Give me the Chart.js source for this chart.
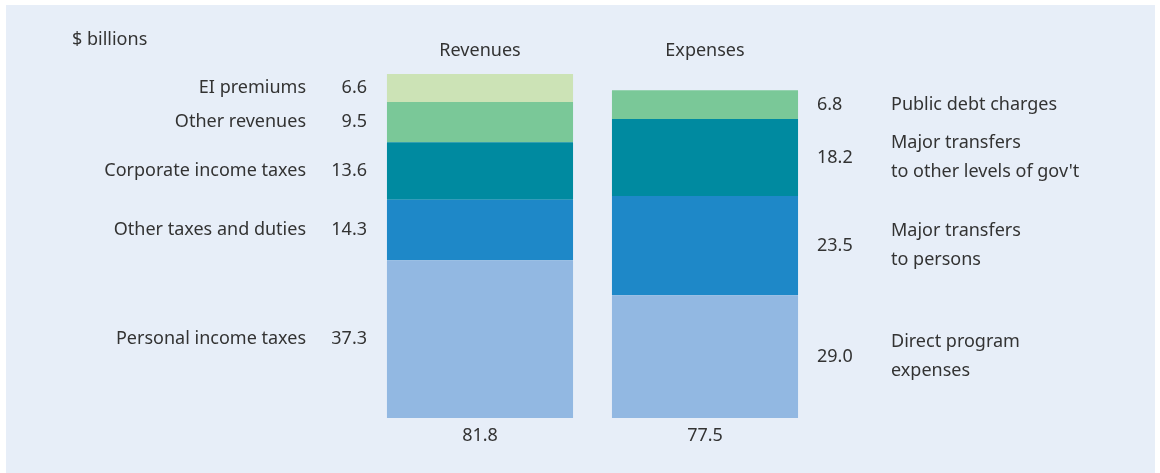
<!DOCTYPE html>
<html>
<head>
<meta charset="utf-8">
<script src="https://cdn.jsdelivr.net/npm/chart.js@4"></script>
<style>
  html, body { margin: 0; padding: 0; background: #fff; }
  #panel { position: absolute; left: 6px; top: 5px; width: 1149px; height: 468px; background: #e7eef8; }
  #wrap { position: absolute; left: 0; top: 0; width: 1160px; height: 473px; }
</style>
</head>
<body>
<div id="panel"></div>
<div id="wrap"><canvas id="budgetChart" width="1160" height="473"></canvas></div>
<script>
// Categories
const columns = ["Revenues", "Expenses"];
// Segments from bottom to top
const revenueLabels = ["Personal income taxes", "Other taxes and duties", "Corporate income taxes", "Other revenues", "EI premiums"];
const revenueValues = [37.3, 14.3, 13.6, 9.5, 6.6];
const expenseLabels = [["Direct program", "expenses"], ["Major transfers", "to persons"], ["Major transfers", "to other levels of gov't"], ["Public debt charges"]];
const expenseValues = [29.0, 23.5, 18.2, 6.8];
const totals = ["81.8", "77.5"];
const segmentColors = ["#92b8e2", "#1e88c8", "#008aa0", "#7ac898", "#cce3b6"];

const FONT = "18px 'Noto Sans', sans-serif";
const TEXT = "#333";

// one dataset per stack level
const datasets = revenueValues.map((v, i) => ({
    label: revenueLabels[i],
    data: [v, i < expenseValues.length ? expenseValues[i] : null],
    backgroundColor: segmentColors[i],
    borderWidth: 0,
    barPercentage: 0.827,
    categoryPercentage: 1
}));

// labels beside the bars
const sideLabels = {
    id: "sideLabels",
    afterDatasetsDraw(chart) {
        const ctx = chart.ctx;
        ctx.save();
        ctx.font = FONT;
        ctx.fillStyle = TEXT;
        ctx.textBaseline = "middle";

        // left side: revenues
        revenueValues.forEach((v, i) => {
            const bar = chart.getDatasetMeta(i).data[0];
            const cy = (bar.y + bar.base) / 2;
            ctx.textAlign = "right";
            ctx.fillText(revenueLabels[i], 306, cy);
            ctx.fillText(v.toFixed(1), 367, cy);
        });

        // right side: expenses
        expenseValues.forEach((v, i) => {
            const bar = chart.getDatasetMeta(i).data[1];
            const cy = (bar.y + bar.base) / 2;
            ctx.textAlign = "left";
            ctx.fillText(v.toFixed(1), 817, cy);
            const lines = expenseLabels[i];
            const lh = 29;
            lines.forEach((line, k) => {
                ctx.fillText(line, 891, cy + (k - (lines.length - 1) / 2) * lh);
            });
        });

        // column titles and totals
        const xs = chart.scales.x;
        ctx.textAlign = "center";
        columns.forEach((c, j) => {
            const x = xs.getPixelForValue(j);
            ctx.fillText(c, x, 51);
            ctx.fillText(totals[j], x, 436);
        });

        ctx.textAlign = "left";
        ctx.fillText("$ billions", 72, 40);
        ctx.restore();
    }
};

new Chart(document.getElementById("budgetChart"), {
    type: "bar",
    data: { labels: columns, datasets: datasets },
    options: {
        responsive: false,
        animation: false,
        layout: { padding: { left: 367.5, right: 342.5, top: 72, bottom: 55 } },
        plugins: { legend: { display: false }, tooltip: { enabled: false } },
        scales: {
            x: { stacked: true, display: false },
            y: { stacked: true, display: false, min: 0, max: 81.8 }
        }
    },
    plugins: [sideLabels]
});
</script>
</body>
</html>
